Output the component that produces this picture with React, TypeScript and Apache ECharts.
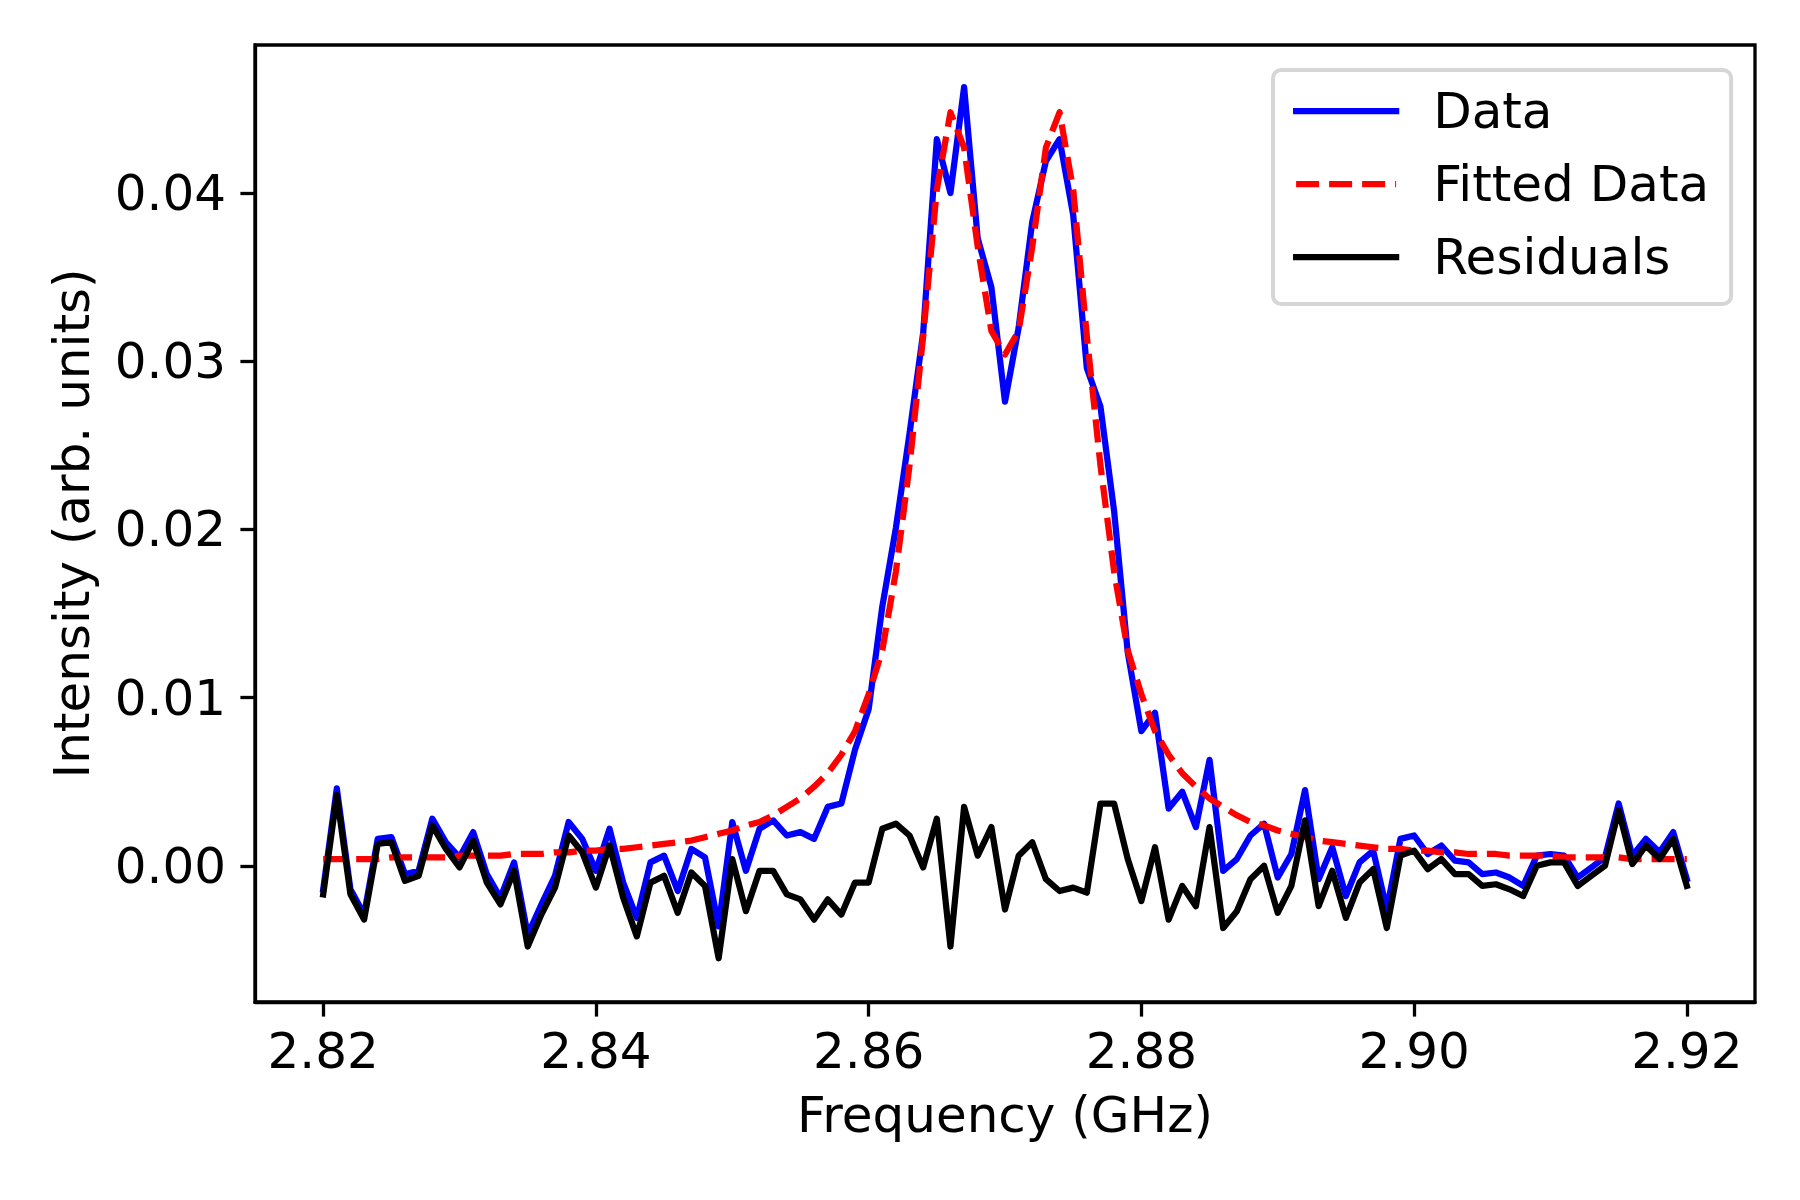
import React, { useEffect, useRef } from "react";
import * as echarts from "echarts";

const FREQ = [
  2.82, 2.821, 2.822, 2.823, 2.824, 2.825, 2.826, 2.827, 2.828, 2.829,
  2.83, 2.831, 2.832, 2.833, 2.834, 2.835, 2.836, 2.837, 2.838, 2.839,
  2.84, 2.841, 2.842, 2.843, 2.844, 2.845, 2.846, 2.847, 2.848, 2.849,
  2.85, 2.851, 2.852, 2.853, 2.854, 2.855, 2.856, 2.857, 2.858, 2.859,
  2.86, 2.861, 2.862, 2.863, 2.864, 2.865, 2.866, 2.867, 2.868, 2.869,
  2.87, 2.871, 2.872, 2.873, 2.874, 2.875, 2.876, 2.877, 2.878, 2.879,
  2.88, 2.881, 2.882, 2.883, 2.884, 2.885, 2.886, 2.887, 2.888, 2.889,
  2.89, 2.891, 2.892, 2.893, 2.894, 2.895, 2.896, 2.897, 2.898, 2.899,
  2.9, 2.901, 2.902, 2.903, 2.904, 2.905, 2.906, 2.907, 2.908, 2.909,
  2.91, 2.911, 2.912, 2.913, 2.914, 2.915, 2.916, 2.917, 2.918, 2.919,
  2.92,
];

const DATA = [
  -0.0014, 0.0046, -0.0014, -0.0029, 0.0016, 0.0017, -0.0005, -0.0003, 0.0028, 0.0014,
  0.0005, 0.002, -0.0005, -0.0019, 0.0002, -0.0041, -0.0023, -0.0006, 0.0026, 0.0016,
  -0.0003, 0.0022, -0.001, -0.0031, 0.0002, 0.0006, -0.0015, 0.001, 0.0005, -0.0036,
  0.0026, -0.0003, 0.0022, 0.0027, 0.0018, 0.002, 0.0016, 0.0035, 0.0037, 0.0069,
  0.0093, 0.0154, 0.0201, 0.0257, 0.0317, 0.0432, 0.04, 0.0463, 0.0373, 0.0344,
  0.0276, 0.032, 0.0383, 0.0419, 0.0432, 0.0387, 0.0296, 0.0273, 0.0211, 0.0127,
  0.008, 0.0091, 0.0034, 0.0044, 0.0023, 0.0063, -0.0003, 0.0004, 0.0018, 0.0025,
  -0.0007, 0.0007, 0.0045, -0.0008, 0.0011, -0.0018, 0.0002, 0.0009, -0.0026, 0.0016,
  0.0018, 0.0007, 0.0012, 0.0003, 0.0002, -0.0005, -0.0004, -0.0007, -0.0012, 0.0006,
  0.0007, 0.0006, -0.0007, -0.0001, 0.0005, 0.0037, 0.0006, 0.0016, 0.0008, 0.002,
  -0.0008,
];

const FITTED = [
  0.0004, 0.0004, 0.0004, 0.0004, 0.0004, 0.0005, 0.0005, 0.0005, 0.0005, 0.0005,
  0.0006, 0.0006, 0.0006, 0.0006, 0.0007, 0.0007, 0.0007, 0.0008, 0.0008, 0.0009,
  0.0009, 0.001, 0.001, 0.0011, 0.0012, 0.0013, 0.0014, 0.0015, 0.0017, 0.0019,
  0.0021, 0.0024, 0.0026, 0.003, 0.0035, 0.004, 0.0047, 0.0055, 0.0066, 0.008,
  0.0102, 0.0128, 0.0175, 0.0238, 0.0315, 0.0402, 0.0448, 0.0427, 0.0368, 0.0318,
  0.0304, 0.0318, 0.0368, 0.0427, 0.0448, 0.0402, 0.0315, 0.0238, 0.0175, 0.0128,
  0.0102, 0.008, 0.0066, 0.0055, 0.0047, 0.004, 0.0035, 0.003, 0.0026, 0.0024,
  0.0021, 0.0019, 0.0017, 0.0015, 0.0014, 0.0013, 0.0012, 0.0011, 0.001, 0.001,
  0.0009, 0.0009, 0.0008, 0.0008, 0.0007, 0.0007, 0.0007, 0.0006, 0.0006, 0.0006,
  0.0006, 0.0005, 0.0005, 0.0005, 0.0005, 0.0005, 0.0004, 0.0004, 0.0004, 0.0004,
  0.0004,
];

const RESIDUALS = [
  -0.0017, 0.0042, -0.0017, -0.0032, 0.0013, 0.0014, -0.0009, -0.0006, 0.0024, 0.001,
  -0.0001, 0.0015, -0.001, -0.0023, -0.0003, -0.0048, -0.0029, -0.0013, 0.0018, 0.0008,
  -0.0013, 0.0012, -0.0019, -0.0042, -0.001, -0.0006, -0.0028, -0.0004, -0.0012, -0.0055,
  0.0004, -0.0027, -0.0003, -0.0003, -0.0017, -0.002, -0.0032, -0.002, -0.0029, -0.001,
  -0.001, 0.0022, 0.0025, 0.0018, -0.0001, 0.0028, -0.0048, 0.0035, 0.0006, 0.0023,
  -0.0026, 0.0006, 0.0014, -0.0008, -0.0015, -0.0013, -0.0016, 0.0037, 0.0037, 0.0004,
  -0.0021, 0.0011, -0.0032, -0.0012, -0.0024, 0.0023, -0.0037, -0.0027, -0.0008, 0.0,
  -0.0028, -0.0012, 0.0027, -0.0024, -0.0003, -0.0031, -0.001, -0.0002, -0.0037, 0.0006,
  0.0009, -0.0002, 0.0004, -0.0005, -0.0005, -0.0012, -0.0011, -0.0014, -0.0018, 0.0,
  0.0002, 0.0002, -0.0012, -0.0006, 0.0, 0.0033, 0.0001, 0.0012, 0.0004, 0.0016,
  -0.0012,
];

const X_TICKS = [2.82, 2.84, 2.86, 2.88, 2.9, 2.92];
const Y_TICKS = [0.0, 0.01, 0.02, 0.03, 0.04];

const FONT = "DejaVu Sans";
const LW = 6.25;

export default function App() {
  const ref = useRef<HTMLDivElement>(null);

  useEffect(() => {
    document.body.style.margin = "0";
    if (!ref.current) return;
    const chart = echarts.init(ref.current, null, { renderer: "svg" });

    const pairs = (ys: number[]) => FREQ.map((f, i) => [f, ys[i]]);

    const option = {
      animation: false,
      backgroundColor: "#ffffff",
      textStyle: { fontFamily: FONT },
      grid: {
        left: 255,
        top: 45,
        width: 1500,
        height: 957,
        show: true,
        borderColor: "#000000",
        borderWidth: 3.3,
        backgroundColor: "transparent",
      },
      legend: {
        orient: "vertical",
        left: 1273,
        top: 70,
        padding: [16, 22, 22, 20],
        itemWidth: 100,
        itemHeight: 50,
        itemGap: 23,
        backgroundColor: "rgba(255,255,255,0.8)",
        borderColor: "#d6d6d6",
        borderWidth: 4,
        borderRadius: 8,
        itemStyle: { opacity: 0 },
        lineStyle: { width: LW },
        textStyle: {
          fontFamily: FONT,
          fontSize: 50,
          color: "#000000",
          lineHeight: 50,
          padding: [0, 0, 0, 32],
        },
        data: [
          { name: "Data", itemStyle: { opacity: 0 }, lineStyle: { width: LW, color: "#0000ff", type: "solid" } },
          { name: "Fitted Data", itemStyle: { opacity: 0 }, lineStyle: { width: LW, color: "#ff0000", type: [23, 10] } },
          { name: "Residuals", itemStyle: { opacity: 0 }, lineStyle: { width: LW, color: "#000000", type: "solid" } },
        ],
      },
      xAxis: {
        type: "value",
        min: 2.815,
        max: 2.925,
        name: "Frequency (GHz)",
        nameLocation: "middle",
        nameGap: 88,
        nameTextStyle: { fontFamily: FONT, fontSize: 50, color: "#000000" },
        axisLine: { show: true, onZero: false, lineStyle: { color: "#000000", width: 3.3 } },
        axisTick: {
          show: true,
          inside: false,
          length: 14.6,
          customValues: X_TICKS,
          lineStyle: { color: "#000000", width: 3.3 },
        },
        axisLabel: {
          show: true,
          margin: 24,
          fontFamily: FONT,
          fontSize: 50,
          color: "#000000",
          customValues: X_TICKS,
          formatter: (v: number) => v.toFixed(2),
        },
        splitLine: { show: false },
      },
      yAxis: {
        type: "value",
        min: -0.0081,
        max: 0.0488,
        name: "Intensity (arb. units)",
        nameLocation: "middle",
        nameRotate: 90,
        nameGap: 158,
        nameTextStyle: { fontFamily: FONT, fontSize: 50, color: "#000000" },
        axisLine: { show: true, onZero: false, lineStyle: { color: "#000000", width: 3.3 } },
        axisTick: {
          show: true,
          inside: false,
          length: 14.6,
          customValues: Y_TICKS,
          lineStyle: { color: "#000000", width: 3.3 },
        },
        axisLabel: {
          show: true,
          margin: 29,
          fontFamily: FONT,
          fontSize: 50,
          color: "#000000",
          customValues: Y_TICKS,
          formatter: (v: number) => v.toFixed(2),
        },
        splitLine: { show: false },
      },
      series: [
        {
          name: "Data",
          type: "line",
          data: pairs(DATA),
          showSymbol: false,
          symbol: "none",
          lineStyle: { color: "#0000ff", width: LW, join: "round", cap: "square" },
          itemStyle: { color: "#0000ff" },
          z: 2,
        },
        {
          name: "Fitted Data",
          type: "line",
          data: pairs(FITTED),
          showSymbol: false,
          symbol: "none",
          lineStyle: { color: "#ff0000", width: LW, type: [23, 10], join: "round", cap: "butt" },
          itemStyle: { color: "#ff0000" },
          z: 3,
        },
        {
          name: "Residuals",
          type: "line",
          data: pairs(RESIDUALS),
          showSymbol: false,
          symbol: "none",
          lineStyle: { color: "#000000", width: LW, join: "round", cap: "square" },
          itemStyle: { color: "#000000" },
          z: 4,
        },
      ],
    };

    chart.setOption(option as any);
    return () => chart.dispose();
  }, []);

  return <div ref={ref} style={{ width: 1800, height: 1200 }} />;
}
